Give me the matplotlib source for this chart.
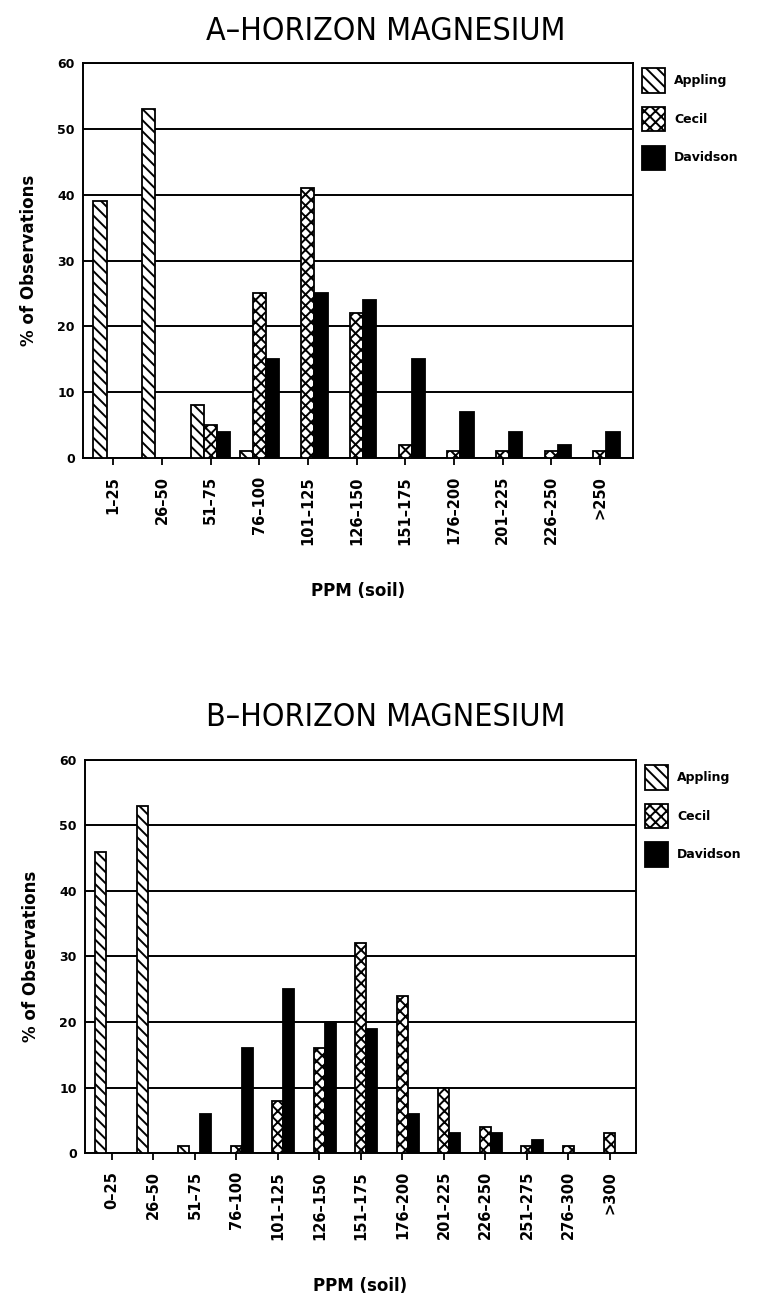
import numpy as np
import matplotlib
matplotlib.use('Agg')
import matplotlib.pyplot as plt

plt.rcParams['hatch.linewidth'] = 1.4
plt.rcParams['font.family'] = ['DejaVu Sans']

# A-horizon data (% of observations)
a_bins = ['1\u201325', '26\u201350', '51\u201375', '76\u2013100', '101\u2013125',
          '126\u2013150', '151\u2013175', '176\u2013200', '201\u2013225',
          '226\u2013250', '>250']
a_appling = [39, 53, 8, 1, 0, 0, 0, 0, 0, 0, 0]
a_cecil = [0, 0, 5, 25, 41, 22, 2, 1, 1, 1, 1]
a_davidson = [0, 0, 4, 15, 25, 24, 15, 7, 4, 2, 4]

# B-horizon data
b_bins = ['0\u201325', '26\u201350', '51\u201375', '76\u2013100', '101\u2013125',
          '126\u2013150', '151\u2013175', '176\u2013200', '201\u2013225',
          '226\u2013250', '251\u2013275', '276\u2013300', '>300']
b_appling = [46, 53, 1, 0, 0, 0, 0, 0, 0, 0, 0, 0, 0]
b_cecil = [0, 0, 0, 1, 8, 16, 32, 24, 10, 4, 1, 1, 3]
b_davidson = [0, 0, 6, 16, 25, 20, 19, 6, 3, 3, 2, 0, 0]

soils = ['Appling', 'Cecil', 'Davidson']
hatches = ['\\\\\\', 'xxx', None]


def draw_panel(ax, bins, series, width, xlim):
    x = np.arange(len(bins))
    for k, (vals, name, h) in enumerate(zip(series, soils, hatches)):
        vals = np.array(vals, dtype=float)
        keep = vals > 0
        face = 'black' if h is None else 'white'
        ax.bar(x[keep] + (k - 1) * width, vals[keep], width,
               facecolor=face, edgecolor='black', hatch=h, linewidth=1.3,
               zorder=3)
        # invisible proxy for legend
        ax.bar([0], [0], 0, facecolor=face, edgecolor='black', hatch=h,
               linewidth=1.3, label=name)

    ax.set_ylim(0, 60)
    ax.set_xlim(*xlim)
    ax.set_yticks(range(0, 61, 10))
    ax.set_xticks(x)
    ax.set_xticklabels(bins, rotation=90, fontweight='bold', fontsize=10.5)
    for lab in ax.get_yticklabels():
        lab.set_fontweight('bold')
        lab.set_fontsize(9)
    ax.yaxis.grid(True, color='black', linewidth=1.4, zorder=0)
    ax.set_axisbelow(True)
    ax.tick_params(axis='x', length=5, width=1.3, pad=8)
    ax.tick_params(axis='y', length=0, pad=6)
    for s in ax.spines.values():
        s.set_linewidth(1.4)
    ax.set_ylabel('% of Observations', fontweight='bold', fontsize=12,
                  labelpad=14)
    ax.set_xlabel('PPM (soil)', fontweight='bold', fontsize=12, labelpad=27)

    ax.legend(loc='upper left', bbox_to_anchor=(0.995, 1.015),
              frameon=False, handlelength=1.9, handleheight=2.6,
              labelspacing=1.15, handletextpad=0.7,
              prop={'weight': 'bold', 'size': 9})


fig = plt.figure(figsize=(7.59, 12.98), dpi=100)
ax1 = fig.add_axes([0.1094, 0.6471, 0.7246, 0.3043])
ax2 = fig.add_axes([0.112, 0.1117, 0.726, 0.3028])

draw_panel(ax1, a_bins, [a_appling, a_cecil, a_davidson], 0.27,
           (-0.62, 10.68))
draw_panel(ax2, b_bins, [b_appling, b_cecil, b_davidson], 0.265,
           (-0.65, 12.63))

fig.text(0.508, 1 - 32 / 1298, 'A\u2013HORIZON MAGNESIUM', fontsize=23,
         fontstretch='condensed', ha='center', va='center')
fig.text(0.508, 1 - 717 / 1298, 'B\u2013HORIZON MAGNESIUM', fontsize=23,
         fontstretch='condensed', ha='center', va='center')

fig.savefig('out.png', dpi=100)
